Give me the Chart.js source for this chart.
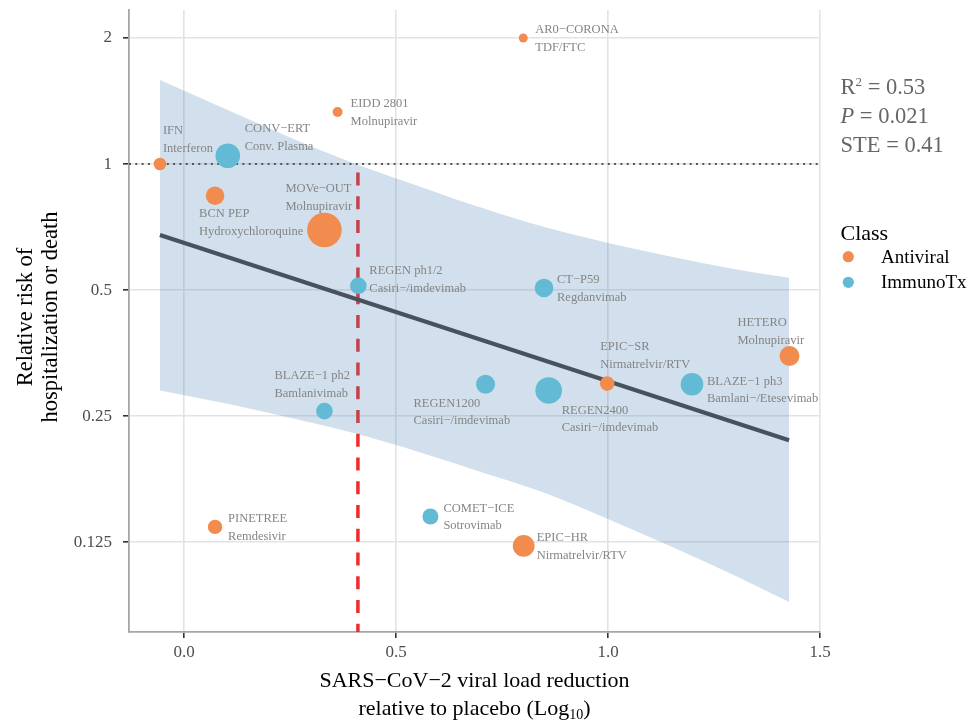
<!DOCTYPE html>
<html>
<head>
<meta charset="utf-8">
<script src="https://cdn.jsdelivr.net/npm/chart.js@4.4.0/dist/chart.umd.min.js"></script>
<style>
  html, body { margin: 0; padding: 0; background: #fff; }
  #wrap { width: 975px; height: 721px; }
</style>
</head>
<body>
<div id="wrap"><canvas id="chart" width="975" height="721"></canvas></div>
<script>
// Trials
const trialNames = ['AR0−CORONA', 'EIDD 2801', 'IFN', 'BCN PEP', 'MOVe−OUT', 'EPIC−SR', 'HETERO', 'PINETREE', 'EPIC−HR',
    'CONV−ERT', 'REGEN ph1/2', 'CT−P59', 'BLAZE−1 ph2', 'REGEN1200', 'REGEN2400', 'BLAZE−1 ph3', 'COMET−ICE'];
const drugNames = ['TDF/FTC', 'Molnupiravir', 'Interferon', 'Hydroxychloroquine', 'Molnupiravir', 'Nirmatrelvir/RTV', 'Molnupiravir', 'Remdesivir', 'Nirmatrelvir/RTV',
    'Conv. Plasma', 'Casiri−/imdevimab', 'Regdanvimab', 'Bamlanivimab', 'Casiri−/imdevimab', 'Casiri−/imdevimab', 'Bamlani−/Etesevimab', 'Sotrovimab'];
const trialClass = ['Antiviral', 'Antiviral', 'Antiviral', 'Antiviral', 'Antiviral', 'Antiviral', 'Antiviral', 'Antiviral', 'Antiviral',
    'ImmunoTx', 'ImmunoTx', 'ImmunoTx', 'ImmunoTx', 'ImmunoTx', 'ImmunoTx', 'ImmunoTx', 'ImmunoTx'];
const viralLoadReduction = [0.80, 0.362, -0.057, 0.073, 0.331, 0.998, 1.428, 0.073, 0.801,
    0.103, 0.411, 0.849, 0.331, 0.711, 0.860, 1.198, 0.581];
const relativeRisk = [2.0, 1.331, 1.0, 0.840, 0.696, 0.299, 0.348, 0.136, 0.1225,
    1.047, 0.512, 0.506, 0.257, 0.298, 0.288, 0.298, 0.144];
// bubble size (trial weight)
const trialWeight = [4.5, 5, 6.3, 9.3, 17.3, 7.3, 10, 7.2, 10.9,
    12.3, 8.3, 9.3, 8.3, 9.5, 13.3, 11.3, 8];

// Regression fit and its confidence band
const fitX = [-0.057, 1.427];
const fitY = [0.677, 0.219];
const bandX = [-0.057, 0.1, 0.25, 0.4, 0.55, 0.7, 0.85, 1.0, 1.15, 1.3, 1.427];
const bandUpper = [1.587, 1.350, 1.158, 1.005, 0.888, 0.787, 0.707, 0.648, 0.601, 0.561, 0.535];
const bandLower = [0.288, 0.268, 0.248, 0.228, 0.206, 0.184, 0.164, 0.142, 0.122, 0.104, 0.090];

// Surrogate threshold line, reference line
const steX = 0.41;
const steY = [0.955, 0.0763];
const refY = 1;

// Axes
const xTicks = [0, 0.5, 1, 1.5];
const yTicks = [0.125, 0.25, 0.5, 1, 2];
const xRange = [-0.13, 1.5];
const yRange = [0.0763, 2.333];

// Stats text
const statNames = ['R2', 'P', 'STE'];
const statValues = ['0.53', '0.021', '0.41'];

const classNames = ['Antiviral', 'ImmunoTx'];
const classColors = ['#F28C4E', '#63BAD4'];

const FONT = "'Liberation Serif', 'DejaVu Serif', serif";

function xy(xs, ys) {
    return xs.map((x, i) => ({ x: x, y: ys[i] }));
}

// bubble datasets, one per class
const bubbleSets = classNames.map((cls, c) => {
    const idx = [];
    trialClass.forEach((t, i) => { if (t === cls) idx.push(i); });
    return {
        type: 'bubble',
        label: cls,
        trialIdx: idx,
        data: idx.map(i => ({ x: viralLoadReduction[i], y: relativeRisk[i], r: trialWeight[i] })),
        backgroundColor: classColors[c],
        borderWidth: 0,
        order: 0
    };
});

const lineBase = { type: 'line', pointRadius: 0, pointHoverRadius: 0, fill: false };

// point labels (offsets are in pixels from the bubble centre)
const labelOffset = {
    'AR0−CORONA': [12, -8], 'EIDD 2801': [13, -8], 'IFN': [3, -33], 'BCN PEP': [-16, 18],
    'MOVe−OUT': [-39, -41], 'EPIC−SR': [-7, -37], 'HETERO': [-52, -33], 'PINETREE': [13, -8],
    'EPIC−HR': [13, -8], 'CONV−ERT': [17, -27], 'REGEN ph1/2': [11, -15], 'CT−P59': [13, -8],
    'BLAZE−1 ph2': [-50, -35], 'REGEN1200': [-72, 19], 'REGEN2400': [13, 20], 'BLAZE−1 ph3': [15, -3],
    'COMET−ICE': [13, -8]
};

const pointLabels = {
    id: 'pointLabels',
    afterDatasetsDraw(chart) {
        const ctx = chart.ctx;
        ctx.save();
        ctx.font = '12.5px ' + FONT;
        ctx.fillStyle = '#858585';
        ctx.textAlign = 'left';
        ctx.textBaseline = 'middle';
        chart.data.datasets.forEach((ds, d) => {
            if (!ds.trialIdx) return;
            const meta = chart.getDatasetMeta(d);
            ds.trialIdx.forEach((ti, k) => {
                const el = meta.data[k];
                const off = labelOffset[trialNames[ti]] || [12, -8];
                ctx.fillText(trialNames[ti], el.x + off[0], el.y + off[1]);
                ctx.fillText(drugNames[ti], el.x + off[0], el.y + off[1] + 17.7);
            });
        });
        ctx.restore();
    }
};

// axis titles, stats, legend
const extras = {
    id: 'extras',
    afterDraw(chart) {
        const ctx = chart.ctx;
        const area = chart.chartArea;
        ctx.save();
        ctx.fillStyle = '#000';
        ctx.font = '22.5px ' + FONT;
        ctx.textBaseline = 'alphabetic';

        // y title
        ctx.save();
        ctx.translate(0, (area.top + area.bottom) / 2 - 4);
        ctx.rotate(-Math.PI / 2);
        ctx.textAlign = 'center';
        ctx.fillText('Relative risk of', 0, 31.5);
        ctx.fillText('hospitalization or death', 0, 57);
        ctx.restore();

        // x title
        const cx = (area.left + area.right) / 2;
        ctx.font = '22px ' + FONT;
        ctx.textAlign = 'center';
        ctx.fillText('SARS−CoV−2 viral load reduction', cx, 687);
        const pre = 'relative to placebo (Log';
        const wPre = ctx.measureText(pre).width;
        const wPar = ctx.measureText(')').width;
        ctx.font = '14px ' + FONT;
        const wSub = ctx.measureText('10').width;
        let x0 = cx - (wPre + wSub + wPar) / 2;
        ctx.textAlign = 'left';
        ctx.font = '22px ' + FONT;
        ctx.fillText(pre, x0, 715);
        ctx.font = '14px ' + FONT;
        ctx.fillText('10', x0 + wPre, 719);
        ctx.font = '22px ' + FONT;
        ctx.fillText(')', x0 + wPre + wSub, 715);

        // stats
        const sx = 840.5;
        const sy = [94, 123.3, 152.3];
        ctx.fillStyle = '#666';
        statNames.forEach((n, i) => {
            let x = sx;
            if (n === 'R2') {
                ctx.font = '22.5px ' + FONT;
                ctx.fillText('R', x, sy[i]);
                x += ctx.measureText('R').width;
                ctx.font = '13px ' + FONT;
                ctx.fillText('2', x, sy[i] - 8);
                x += ctx.measureText('2').width;
            } else if (n === 'P') {
                ctx.font = 'italic 22.5px ' + FONT;
                ctx.fillText('P', x, sy[i]);
                x += ctx.measureText('P').width;
            } else {
                ctx.font = '22.5px ' + FONT;
                ctx.fillText(n, x, sy[i]);
                x += ctx.measureText(n).width;
            }
            ctx.font = '22.5px ' + FONT;
            ctx.fillText(' = ' + statValues[i], x, sy[i]);
        });

        // legend
        ctx.fillStyle = '#000';
        ctx.font = '22px ' + FONT;
        ctx.fillText('Class', 840.5, 240);
        ctx.font = '19px ' + FONT;
        ctx.textBaseline = 'middle';
        classNames.forEach((cls, i) => {
            const y = 256.7 + i * 25.6;
            ctx.beginPath();
            ctx.arc(848.3, y, 5.6, 0, Math.PI * 2);
            ctx.fillStyle = classColors[i];
            ctx.fill();
            ctx.fillStyle = '#000';
            ctx.fillText(cls, 881, y + 1);
        });
        ctx.restore();
    }
};

new Chart(document.getElementById('chart'), {
    type: 'bubble',
    data: {
        datasets: [
            ...bubbleSets,
            Object.assign({}, lineBase, {
                label: 'fit', data: xy(fitX, fitY),
                borderColor: '#48525E', borderWidth: 4, borderCapStyle: 'butt', order: 1
            }),
            Object.assign({}, lineBase, {
                label: 'ref', data: xy(xRange, [refY, refY]),
                borderColor: '#555', borderWidth: 2, borderDash: [2, 4.3], order: 2
            }),
            Object.assign({}, lineBase, {
                label: 'upper', data: xy(bandX, bandUpper),
                borderWidth: 0, borderColor: 'rgba(0,0,0,0)', cubicInterpolationMode: 'monotone',
                fill: '+1', backgroundColor: 'rgba(70,130,180,0.25)', order: 3
            }),
            Object.assign({}, lineBase, {
                label: 'lower', data: xy(bandX, bandLower),
                borderWidth: 0, borderColor: 'rgba(0,0,0,0)', cubicInterpolationMode: 'monotone', order: 4
            }),
            Object.assign({}, lineBase, {
                label: 'ste', data: xy([steX, steX], steY),
                borderColor: '#EE2C2C', borderWidth: 3.5, borderDash: [13, 10.75], order: 5
            })
        ]
    },
    options: {
        responsive: false,
        animation: false,
        events: [],
        layout: { autoPadding: false, padding: { top: 10, right: 155, left: 0, bottom: 0 } },
        plugins: {
            legend: { display: false },
            tooltip: { enabled: false },
            title: { display: false }
        },
        scales: {
            x: {
                type: 'linear',
                min: xRange[0],
                max: xRange[1],
                afterBuildTicks: (scale) => { scale.ticks = xTicks.map(v => ({ value: v })); },
                afterFit: (scale) => {
                    scale.height = 89;
                    scale.paddingLeft = 0;
                    scale.paddingRight = 0;
                },
                ticks: {
                    callback: (v) => Number(v).toFixed(1),
                    color: '#4d4d4d',
                    font: { family: FONT, size: 17 },
                    padding: 4,
                    maxRotation: 0
                },
                grid: { color: '#e3e3e3', lineWidth: 1.6, tickColor: '#333', tickLength: 6, tickWidth: 1.6 },
                border: { display: true, color: '#a6a6a6', width: 1.8 }
            },
            y: {
                type: 'logarithmic',
                min: yRange[0],
                max: yRange[1],
                afterBuildTicks: (scale) => { scale.ticks = yTicks.map(v => ({ value: v })); },
                afterFit: (scale) => {
                    scale.width = 129;
                    scale.paddingTop = 0;
                    scale.paddingBottom = 0;
                },
                ticks: {
                    callback: (v) => String(v),
                    color: '#4d4d4d',
                    font: { family: FONT, size: 17 },
                    padding: 11
                },
                grid: { color: '#e3e3e3', lineWidth: 1.6, tickColor: '#333', tickLength: 6, tickWidth: 1.6 },
                border: { display: true, color: '#a6a6a6', width: 1.8 }
            }
        }
    },
    plugins: [pointLabels, extras]
});
</script>
</body>
</html>
